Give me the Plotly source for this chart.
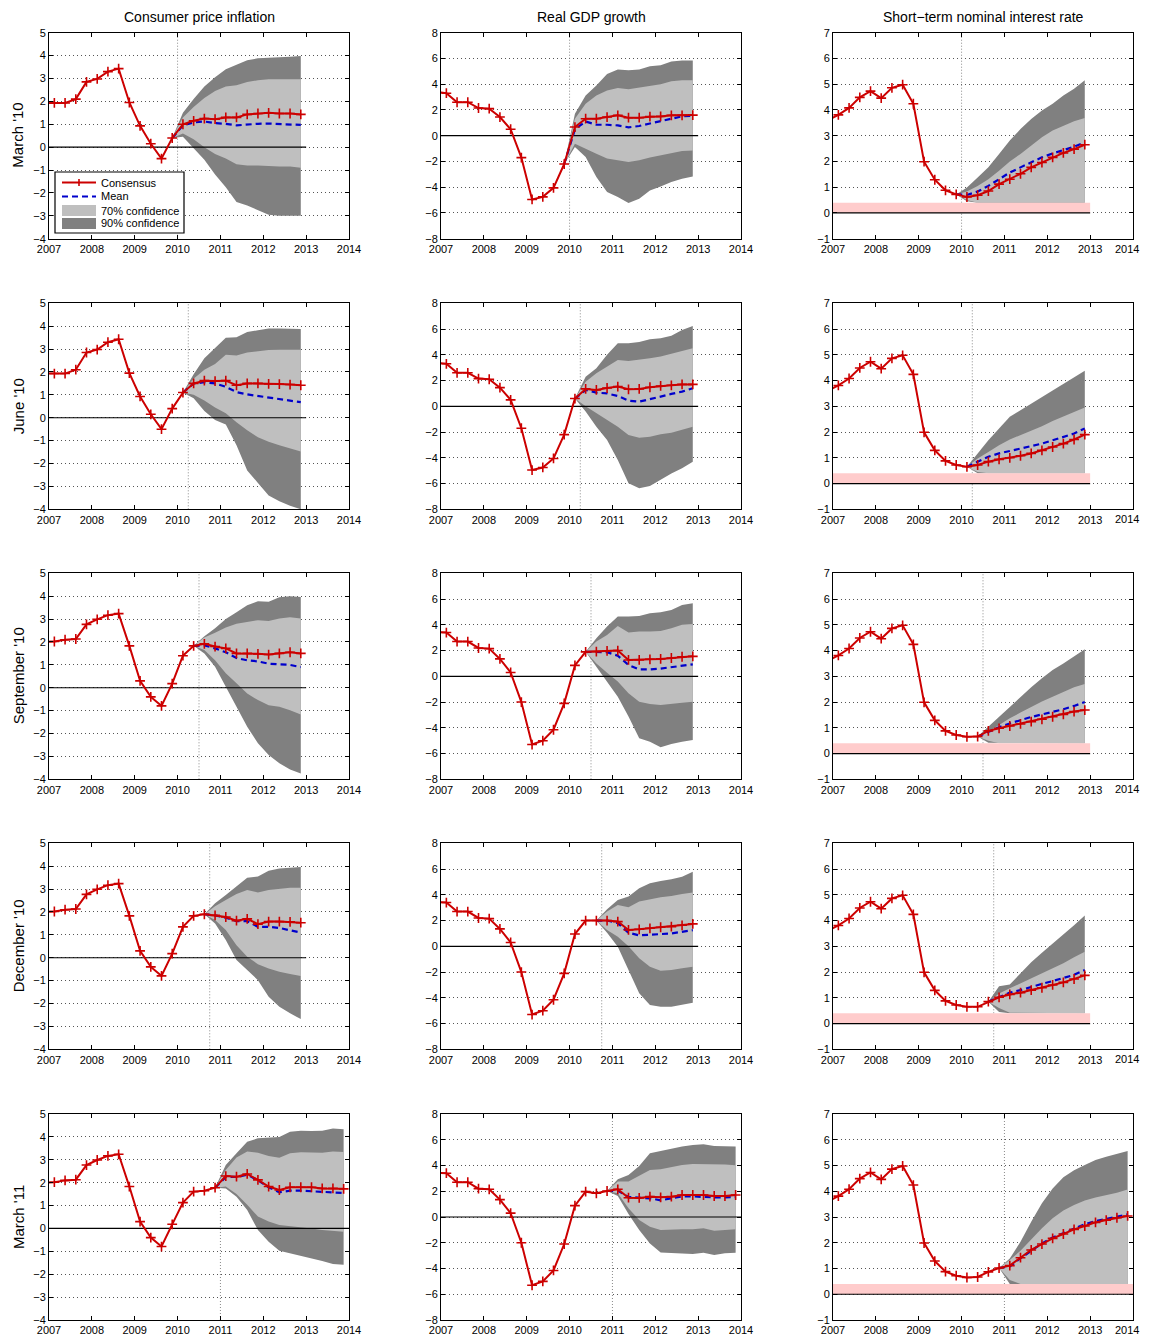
import plotly.graph_objects as go

# ---------------- DATA ----------------
# Quarter mid-points: 2006Q4 (index 0) ... 2013Q4 (index 28)
Q_START = 2006.875
Q_STEP = 0.25

ROW_LABELS = ["March '10", "June '10", "September '10", "December '10", "March '11"]
COL_TITLES = ["Consumer price inflation", "Real GDP growth", "Short\u2212term nominal interest rate"]
LEGEND_LABELS = ["Consensus", "Mean", "70% confidence", "90% confidence"]
ORIGIN_LINES = [2010.0, 2010.25, 2010.5, 2010.75, 2011.0]   # forecast date of each survey
ORIGIN_INDEX = [12, 13, 14, 15, 16]                          # last observed quarter (index in quarter grid)
PANEL_END = [2013, 2013, 2013, 2013, 2014]
X_TICKS = [2007, 2008, 2009, 2010, 2011, 2012, 2013, 2014]
ZLB = 0.4

# history 2006Q4..2009Q4 (two data vintages for CPI and GDP)
CPI_HIST_A = [1.93, 1.93, 1.93, 2.10, 2.85, 2.98, 3.30, 3.43, 1.95, 0.93, 0.15, -0.50, 0.40]
CPI_HIST_B = [2.00, 2.02, 2.10, 2.13, 2.77, 2.99, 3.17, 3.24, 1.83, 0.30, -0.40, -0.79, 0.18]
GDP_HIST_A = [3.40, 3.30, 2.60, 2.60, 2.15, 2.10, 1.45, 0.50, -1.70, -4.95, -4.75, -4.05, -2.20]
GDP_HIST_B = [3.45, 3.40, 2.70, 2.70, 2.20, 2.15, 1.35, 0.30, -2.00, -5.30, -5.00, -4.15, -2.10]
IR_HIST = [3.60, 3.81, 4.08, 4.49, 4.73, 4.46, 4.86, 4.98, 4.24, 1.99, 1.29, 0.88, 0.72]

# consensus path from 2010Q1 onwards (recent observations followed by forecasts), per survey
CPI_CONS = [
    [1.00, 1.15, 1.25, 1.22, 1.30, 1.30, 1.43, 1.47, 1.50, 1.47, 1.47, 1.43],
    [1.10, 1.50, 1.62, 1.60, 1.62, 1.42, 1.50, 1.50, 1.48, 1.47, 1.45, 1.42],
    [1.40, 1.83, 1.92, 1.80, 1.72, 1.50, 1.50, 1.48, 1.45, 1.50, 1.55, 1.50],
    [1.35, 1.83, 1.90, 1.85, 1.78, 1.62, 1.70, 1.47, 1.58, 1.58, 1.57, 1.53],
    [1.13, 1.61, 1.65, 1.78, 2.29, 2.26, 2.38, 2.12, 1.83, 1.68, 1.80, 1.80, 1.80, 1.75, 1.75, 1.73],
]
CPI_MEAN = [
    [0.40, 0.95, 1.08, 1.12, 1.05, 1.02, 0.95, 1.00, 1.02, 1.03, 1.00, 1.00, 0.97],
    [1.10, 1.50, 1.55, 1.50, 1.35, 1.12, 1.02, 0.95, 0.88, 0.80, 0.72, 0.68],
    [1.83, 1.85, 1.72, 1.55, 1.30, 1.20, 1.15, 1.05, 1.02, 1.00, 0.90],
    [1.90, 1.85, 1.75, 1.60, 1.60, 1.35, 1.35, 1.30, 1.20, 1.10],
    [1.78, 2.25, 2.25, 2.35, 2.10, 1.80, 1.58, 1.65, 1.65, 1.62, 1.60, 1.55, 1.55],
]
CPI_HI90 = [
    [0.40, 1.50, 2.10, 2.65, 3.05, 3.40, 3.60, 3.80, 3.88, 3.90, 3.90, 3.95, 3.98],
    [1.10, 1.90, 2.60, 3.05, 3.50, 3.52, 3.75, 3.82, 3.90, 3.90, 3.90, 3.88],
    [1.83, 2.25, 2.60, 3.00, 3.30, 3.60, 3.78, 3.76, 3.95, 4.00, 3.97],
    [1.90, 2.38, 2.74, 3.10, 3.50, 3.55, 3.80, 3.90, 3.95, 3.97],
    [1.78, 2.77, 3.28, 3.79, 3.94, 3.98, 4.00, 4.22, 4.27, 4.26, 4.27, 4.37, 4.33],
]
CPI_HI70 = [
    [0.40, 1.30, 1.75, 2.15, 2.45, 2.65, 2.70, 2.85, 2.92, 2.97, 2.97, 2.97, 2.97],
    [1.10, 1.70, 2.10, 2.35, 2.75, 2.72, 2.85, 2.92, 2.96, 2.97, 2.97, 2.97],
    [1.83, 2.20, 2.40, 2.63, 2.80, 2.88, 2.95, 2.92, 3.03, 3.08, 3.03],
    [1.90, 2.25, 2.52, 2.78, 2.96, 2.85, 2.96, 3.02, 3.06, 3.06],
    [1.78, 2.55, 3.10, 3.36, 3.31, 3.17, 3.09, 3.28, 3.33, 3.31, 3.31, 3.36, 3.34],
]
CPI_LO70 = [
    [0.40, 0.60, 0.35, 0.00, -0.30, -0.50, -0.75, -0.80, -0.80, -0.82, -0.85, -0.85, -0.90],
    [1.10, 1.00, 0.75, 0.45, 0.20, -0.20, -0.55, -0.85, -1.05, -1.20, -1.35, -1.48],
    [1.83, 1.65, 1.20, 0.63, 0.20, -0.25, -0.54, -0.76, -0.83, -0.98, -1.17],
    [1.90, 1.65, 1.21, 0.55, 0.04, -0.28, -0.47, -0.61, -0.71, -0.80],
    [1.78, 1.83, 1.50, 1.03, 0.52, 0.30, 0.15, 0.08, 0.05, 0.00, -0.07, -0.12, -0.14],
]
CPI_LO90 = [
    [0.40, 0.45, -0.05, -0.55, -1.20, -1.75, -2.40, -2.55, -2.75, -2.95, -3.00, -3.00, -3.00],
    [1.10, 0.85, 0.30, -0.10, -0.30, -1.20, -2.30, -2.85, -3.40, -3.65, -3.85, -4.00],
    [1.83, 1.50, 0.92, 0.05, -0.83, -1.70, -2.43, -2.94, -3.30, -3.57, -3.75],
    [1.90, 1.50, 0.77, -0.10, -0.55, -0.98, -1.70, -2.14, -2.43, -2.68],
    [1.78, 1.75, 1.39, 0.81, -0.07, -0.58, -0.97, -1.08, -1.19, -1.30, -1.42, -1.55, -1.59],
]

GDP_CONS = [
    [0.67, 1.32, 1.32, 1.45, 1.58, 1.40, 1.40, 1.48, 1.50, 1.58, 1.58, 1.60],
    [0.60, 1.35, 1.27, 1.42, 1.53, 1.32, 1.35, 1.48, 1.58, 1.63, 1.70, 1.70],
    [0.85, 1.90, 1.92, 1.97, 2.00, 1.27, 1.27, 1.32, 1.35, 1.42, 1.52, 1.55],
    [0.95, 2.00, 2.00, 2.00, 1.92, 1.27, 1.32, 1.40, 1.48, 1.53, 1.63, 1.74],
    [0.88, 1.97, 1.84, 2.02, 2.15, 1.50, 1.48, 1.58, 1.53, 1.58, 1.71, 1.71, 1.71, 1.63, 1.63, 1.71],
]
GDP_MEAN = [
    [-2.20, 0.50, 1.10, 0.85, 0.85, 0.80, 0.65, 0.75, 0.95, 1.15, 1.35, 1.50, 1.55],
    [0.60, 1.27, 1.06, 1.00, 0.80, 0.44, 0.36, 0.54, 0.75, 0.96, 1.14, 1.40],
    [1.90, 1.87, 1.87, 1.60, 0.88, 0.54, 0.54, 0.60, 0.70, 0.80, 0.93],
    [2.00, 2.00, 1.80, 1.05, 0.85, 0.88, 0.95, 1.00, 1.10, 1.25],
    [2.02, 2.05, 1.55, 1.48, 1.45, 1.30, 1.45, 1.60, 1.60, 1.55, 1.52, 1.52, 1.55],
]
GDP_HI90 = [
    [-2.20, 1.70, 3.13, 3.90, 4.80, 5.15, 5.08, 5.15, 5.40, 5.47, 5.77, 5.85, 5.85],
    [0.60, 2.30, 2.95, 4.00, 4.90, 4.90, 5.00, 5.20, 5.28, 5.47, 5.93, 6.24],
    [1.90, 2.95, 3.86, 4.64, 4.64, 4.69, 4.90, 4.97, 5.15, 5.54, 5.67],
    [2.00, 2.88, 3.60, 3.86, 4.50, 4.90, 5.08, 5.20, 5.41, 5.80],
    [2.02, 2.93, 3.26, 3.96, 4.95, 5.13, 5.26, 5.47, 5.60, 5.65, 5.52, 5.52, 5.47],
]
GDP_HI70 = [
    [-2.20, 1.32, 2.49, 3.13, 3.52, 3.70, 3.60, 3.73, 3.90, 4.00, 4.22, 4.30, 4.30],
    [0.60, 1.90, 2.56, 3.08, 3.60, 3.52, 3.60, 3.73, 3.86, 4.07, 4.33, 4.50],
    [1.90, 2.70, 3.20, 3.90, 3.40, 3.47, 3.47, 3.52, 3.73, 4.00, 4.07],
    [2.00, 2.70, 3.21, 3.03, 3.47, 3.65, 3.81, 3.91, 4.07, 4.17],
    [2.02, 2.75, 2.75, 3.19, 3.65, 3.70, 3.86, 4.04, 4.12, 4.12, 4.09, 4.07, 4.02],
]
GDP_LO70 = [
    [-2.20, -0.62, -1.00, -1.40, -1.78, -1.90, -2.05, -1.90, -1.70, -1.53, -1.35, -1.19, -1.14],
    [0.60, 0.00, -0.54, -1.06, -1.58, -2.23, -2.44, -2.36, -2.18, -2.05, -1.79, -1.58],
    [1.90, 1.00, 0.28, -0.41, -1.32, -1.97, -2.15, -2.23, -2.15, -2.05, -1.97],
    [2.00, 1.27, 0.75, 0.00, -0.93, -1.58, -1.89, -1.84, -1.71, -1.58],
    [2.02, 1.84, 0.67, -0.23, -0.75, -1.01, -1.01, -0.96, -0.96, -0.88, -1.06, -1.01, -0.96],
]
GDP_LO90 = [
    [-2.20, -0.88, -1.66, -3.20, -4.38, -4.77, -5.23, -4.90, -4.25, -3.94, -3.60, -3.34, -3.16],
    [0.60, -0.41, -1.58, -2.62, -4.17, -5.98, -6.37, -6.19, -5.73, -5.21, -4.82, -4.30],
    [1.90, 0.80, -0.41, -1.58, -3.13, -4.82, -5.08, -5.52, -5.26, -5.08, -4.95],
    [2.00, 1.06, -0.03, -1.84, -3.65, -4.56, -4.69, -4.69, -4.56, -4.38],
    [2.02, 1.63, 0.23, -1.01, -2.05, -2.75, -2.77, -2.82, -2.88, -2.77, -2.95, -2.82, -2.77],
]

IR_CONS = [
    [0.62, 0.69, 0.85, 1.12, 1.31, 1.52, 1.77, 1.96, 2.16, 2.33, 2.48, 2.65],
    [0.65, 0.72, 0.85, 0.94, 1.00, 1.08, 1.17, 1.29, 1.42, 1.55, 1.71, 1.90],
    [0.65, 0.66, 0.88, 0.98, 1.07, 1.15, 1.24, 1.33, 1.43, 1.52, 1.63, 1.69],
    [0.65, 0.65, 0.85, 1.02, 1.13, 1.20, 1.30, 1.39, 1.50, 1.60, 1.73, 1.87],
    [0.65, 0.67, 0.87, 1.02, 1.11, 1.42, 1.72, 1.95, 2.17, 2.34, 2.52, 2.65, 2.79, 2.88, 2.97, 3.04],
]
IR_MEAN = [
    [0.72, 0.70, 0.83, 1.05, 1.31, 1.57, 1.77, 1.96, 2.16, 2.31, 2.44, 2.57, 2.74],
    [0.65, 0.84, 1.04, 1.17, 1.27, 1.36, 1.47, 1.55, 1.68, 1.81, 1.94, 2.14],
    [0.66, 0.85, 1.02, 1.17, 1.30, 1.42, 1.52, 1.62, 1.72, 1.85, 2.00],
    [0.85, 1.04, 1.20, 1.30, 1.43, 1.54, 1.65, 1.76, 1.89, 2.08],
    [1.02, 1.08, 1.40, 1.70, 1.97, 2.20, 2.38, 2.57, 2.72, 2.84, 2.93, 3.02, 3.10],
]
IR_HI90 = [
    [0.72, 0.99, 1.38, 1.77, 2.29, 2.81, 3.26, 3.65, 3.98, 4.24, 4.56, 4.82, 5.15],
    [0.65, 1.17, 1.68, 2.14, 2.59, 2.85, 3.11, 3.37, 3.62, 3.88, 4.14, 4.38],
    [0.66, 1.04, 1.43, 1.82, 2.21, 2.57, 2.92, 3.24, 3.50, 3.76, 4.05],
    [0.85, 1.45, 1.52, 1.95, 2.38, 2.75, 3.10, 3.45, 3.82, 4.20],
    [1.02, 1.39, 2.04, 2.82, 3.53, 4.11, 4.54, 4.82, 5.02, 5.21, 5.34, 5.44, 5.56],
]
IR_HI70 = [
    [0.72, 0.83, 1.05, 1.31, 1.64, 2.00, 2.29, 2.61, 2.94, 3.20, 3.39, 3.56, 3.69],
    [0.65, 0.97, 1.23, 1.49, 1.71, 1.88, 2.05, 2.23, 2.43, 2.62, 2.78, 2.95],
    [0.66, 0.85, 1.11, 1.37, 1.59, 1.82, 2.02, 2.21, 2.40, 2.57, 2.70],
    [0.85, 1.17, 1.37, 1.56, 1.75, 1.95, 2.14, 2.34, 2.57, 2.79],
    [1.02, 1.33, 1.69, 2.13, 2.56, 2.95, 3.25, 3.47, 3.64, 3.76, 3.85, 3.94, 4.07],
]
IR_LO70 = [
    [0.72, 0.50, 0.40, 0.40, 0.40, 0.40, 0.40, 0.40, 0.40, 0.40, 0.40, 0.40, 0.40],
    [0.65, 0.45, 0.40, 0.40, 0.40, 0.40, 0.40, 0.40, 0.40, 0.40, 0.40, 0.40],
    [0.66, 0.50, 0.40, 0.40, 0.40, 0.40, 0.40, 0.40, 0.40, 0.40, 0.40],
    [0.85, 0.60, 0.42, 0.40, 0.40, 0.40, 0.40, 0.40, 0.40, 0.40],
    [1.02, 0.55, 0.40, 0.40, 0.40, 0.40, 0.40, 0.40, 0.40, 0.40, 0.40, 0.40, 0.40],
]
IR_LO90 = [
    [0.72, 0.45, 0.40, 0.40, 0.40, 0.40, 0.40, 0.40, 0.40, 0.40, 0.40, 0.40, 0.40],
    [0.65, 0.40, 0.40, 0.40, 0.40, 0.40, 0.40, 0.40, 0.40, 0.40, 0.40, 0.40],
    [0.66, 0.42, 0.40, 0.40, 0.40, 0.40, 0.40, 0.40, 0.40, 0.40, 0.40],
    [0.85, 0.45, 0.40, 0.40, 0.40, 0.40, 0.40, 0.40, 0.40, 0.40],
    [1.02, 0.40, 0.40, 0.40, 0.40, 0.40, 0.40, 0.40, 0.40, 0.40, 0.40, 0.40, 0.40],
]

Y_RANGES = [(-4, 5), (-8, 8), (-1, 7)]
Y_DTICK = [1, 2, 1]

# ---------------- STYLE / GEOMETRY ----------------
FONT = "Liberation Sans, Arial, Helvetica, sans-serif"
PAGE_OFF = 8                 # default body margin of the html page
VISIBLE_RIGHT = 1140.5       # right-most visible page pixel
W, H = 1149 - PAGE_OFF, 1336 - PAGE_OFF
COL_PX = [(49, 349), (441, 741), (833, 1133)]          # page pixels
ROW_TOP_PX = [32.7, 303.3, 573.3, 843.3, 1114.0]
ROW_H_PX = 206.0
RED = "#CC0000"
BLUE = "#0000CC"
LIGHT = "#BFBFBF"
DARK = "#808080"
PINK = "#FFCCCC"


def px_x(p):
    return (p - PAGE_OFF) / W


def px_y(p):
    return 1 - (p - PAGE_OFF) / H


def qx(i0, n):
    return [Q_START + Q_STEP * (i0 + k) for k in range(n)]


VARS = [
    dict(hist=[CPI_HIST_A, CPI_HIST_A, CPI_HIST_B, CPI_HIST_B, CPI_HIST_B],
         cons=CPI_CONS, mean=CPI_MEAN, hi90=CPI_HI90, hi70=CPI_HI70, lo70=CPI_LO70, lo90=CPI_LO90, zlb=False),
    dict(hist=[GDP_HIST_A, GDP_HIST_A, GDP_HIST_B, GDP_HIST_B, GDP_HIST_B],
         cons=GDP_CONS, mean=GDP_MEAN, hi90=GDP_HI90, hi70=GDP_HI70, lo70=GDP_LO70, lo90=GDP_LO90, zlb=False),
    dict(hist=[IR_HIST] * 5,
         cons=IR_CONS, mean=IR_MEAN, hi90=IR_HI90, hi70=IR_HI70, lo70=IR_LO70, lo90=IR_LO90, zlb=True),
]

fig = go.Figure()
layout = {}
annotations = []

for r in range(5):
    for c in range(3):
        n = r * 3 + c + 1
        sfx = "" if n == 1 else str(n)
        xref, yref = "x" + sfx, "y" + sfx
        v = VARS[c]
        ymin, ymax = Y_RANGES[c]
        o = ORIGIN_INDEX[r]

        # forecast-date marker line
        fig.add_trace(go.Scatter(x=[ORIGIN_LINES[r], ORIGIN_LINES[r]], y=[ymin, ymax], mode="lines",
                                 line=dict(color="#8a8a8a", width=1, dash="1px,2px"),
                                 showlegend=False, hoverinfo="skip", xaxis=xref, yaxis=yref))

        xb = qx(o, len(v["mean"][r]))
        # 90% band
        fig.add_trace(go.Scatter(x=xb + xb[::-1], y=v["hi90"][r] + v["lo90"][r][::-1], mode="lines",
                                 fill="toself", fillcolor=DARK, line=dict(width=0, color=DARK),
                                 name=LEGEND_LABELS[3], showlegend=False,
                                 hoverinfo="skip", xaxis=xref, yaxis=yref))
        # 70% band
        fig.add_trace(go.Scatter(x=xb + xb[::-1], y=v["hi70"][r] + v["lo70"][r][::-1], mode="lines",
                                 fill="toself", fillcolor=LIGHT, line=dict(width=0, color=LIGHT),
                                 name=LEGEND_LABELS[2], showlegend=False,
                                 hoverinfo="skip", xaxis=xref, yaxis=yref))
        end = PANEL_END[r]
        if v["zlb"]:
            fig.add_trace(go.Scatter(x=[2007, end, end, 2007], y=[0, 0, ZLB, ZLB], mode="lines",
                                     fill="toself", fillcolor=PINK, line=dict(width=0, color=PINK),
                                     showlegend=False, hoverinfo="skip", xaxis=xref, yaxis=yref))
        # zero line
        fig.add_trace(go.Scatter(x=[2007, end], y=[0, 0], mode="lines", line=dict(color="black", width=1.2),
                                 showlegend=False, hoverinfo="skip", xaxis=xref, yaxis=yref))
        # mean
        fig.add_trace(go.Scatter(x=xb, y=v["mean"][r], mode="lines",
                                 line=dict(color=BLUE, width=2.2, dash="6px,4px"),
                                 name=LEGEND_LABELS[1], showlegend=False,
                                 xaxis=xref, yaxis=yref))
        # consensus (history + forecast)
        ys = v["hist"][r] + v["cons"][r]
        fig.add_trace(go.Scatter(x=qx(0, len(ys)), y=ys, mode="lines+markers",
                                 line=dict(color=RED, width=2),
                                 marker=dict(symbol="cross-thin", size=7, line=dict(color=RED, width=1.6)),
                                 name=LEGEND_LABELS[0], showlegend=False,
                                 xaxis=xref, yaxis=yref))

        x0, x1 = COL_PX[c]
        top = ROW_TOP_PX[r]
        axis_common = dict(showline=True, linecolor="black", linewidth=1, mirror="ticks",
                           ticks="inside", ticklen=4, tickwidth=1, tickcolor="black",
                           tickfont=dict(family=FONT, size=11, color="black"),
                           zeroline=False, automargin=False, fixedrange=True)
        ticktext = [str(t) for t in X_TICKS]
        if c == 2:
            # last label of the right column would run past the visible page edge:
            # draw it as a right-aligned text instead
            ticktext[-1] = ""
            annotations.append(dict(text=str(X_TICKS[-1]), x=px_x(VISIBLE_RIGHT), y=px_y(top + ROW_H_PX + 10),
                                    xref="paper", yref="paper", showarrow=False,
                                    xanchor="right", yanchor="middle",
                                    font=dict(family=FONT, size=11, color="black")))
        layout["xaxis" + sfx] = dict(domain=[px_x(x0), px_x(x1)], anchor=yref, range=[2007, 2014],
                                     tickvals=X_TICKS, ticktext=ticktext, showgrid=False, **axis_common)
        layout["yaxis" + sfx] = dict(domain=[px_y(top + ROW_H_PX), px_y(top)], anchor=xref,
                                     range=[ymin, ymax], dtick=Y_DTICK[c], tick0=ymin,
                                     showgrid=True, gridcolor="#555555", gridwidth=1, griddash="1px,3px",
                                     **axis_common)

for c, t in enumerate(COL_TITLES):
    x0, x1 = COL_PX[c]
    annotations.append(dict(text=t, x=px_x((x0 + x1) / 2), y=px_y(17), xref="paper", yref="paper",
                            showarrow=False, xanchor="center", yanchor="middle",
                            font=dict(family=FONT, size=14, color="black")))
for r, t in enumerate(ROW_LABELS):
    yc = ROW_TOP_PX[r] + ROW_H_PX / 2
    annotations.append(dict(text=t, x=px_x(18), y=px_y(yc), xref="paper", yref="paper",
                            showarrow=False, xanchor="center", yanchor="middle", textangle=-90,
                            font=dict(family=FONT, size=15, color="black")))

# ---- legend box in the first panel (drawn as a compact key, MATLAB style) ----
shapes = []
LEG_BOX = (55, 172, 184, 233)
LEG_ROWS = [182.5, 196.5, 210.5, 223.5]
KEY_X = (62, 96)
TEXT_X = 99
shapes.append(dict(type="rect", xref="paper", yref="paper",
                   x0=px_x(LEG_BOX[0]), x1=px_x(LEG_BOX[2]), y0=px_y(LEG_BOX[3]), y1=px_y(LEG_BOX[1]),
                   fillcolor="white", line=dict(color="black", width=1.2)))
shapes.append(dict(type="line", xref="paper", yref="paper",
                   x0=px_x(KEY_X[0]), x1=px_x(KEY_X[1]), y0=px_y(LEG_ROWS[0]), y1=px_y(LEG_ROWS[0]),
                   line=dict(color=RED, width=2)))
xm = (KEY_X[0] + KEY_X[1]) / 2
shapes.append(dict(type="line", xref="paper", yref="paper",
                   x0=px_x(xm), x1=px_x(xm), y0=px_y(LEG_ROWS[0] - 3.5), y1=px_y(LEG_ROWS[0] + 3.5),
                   line=dict(color=RED, width=1.6)))
shapes.append(dict(type="line", xref="paper", yref="paper",
                   x0=px_x(KEY_X[0]), x1=px_x(KEY_X[1]), y0=px_y(LEG_ROWS[1]), y1=px_y(LEG_ROWS[1]),
                   line=dict(color=BLUE, width=2.2, dash="6px,4px")))
for row_y, col in ((LEG_ROWS[2], LIGHT), (LEG_ROWS[3], DARK)):
    shapes.append(dict(type="rect", xref="paper", yref="paper",
                       x0=px_x(KEY_X[0]), x1=px_x(KEY_X[1]), y0=px_y(row_y + 5.5), y1=px_y(row_y - 5.5),
                       fillcolor=col, line=dict(width=0)))
for row_y, t in zip(LEG_ROWS, LEGEND_LABELS):
    annotations.append(dict(text=t, x=px_x(TEXT_X), y=px_y(row_y), xref="paper", yref="paper",
                            showarrow=False, xanchor="left", yanchor="middle",
                            font=dict(family=FONT, size=11, color="black")))

fig.update_layout(
    width=W, height=H, margin=dict(l=0, r=0, t=0, b=0),
    paper_bgcolor="white", plot_bgcolor="white",
    annotations=annotations, shapes=shapes,
    showlegend=False,
    hovermode=False,
    **layout,
)

fig.write_html("out.html")
